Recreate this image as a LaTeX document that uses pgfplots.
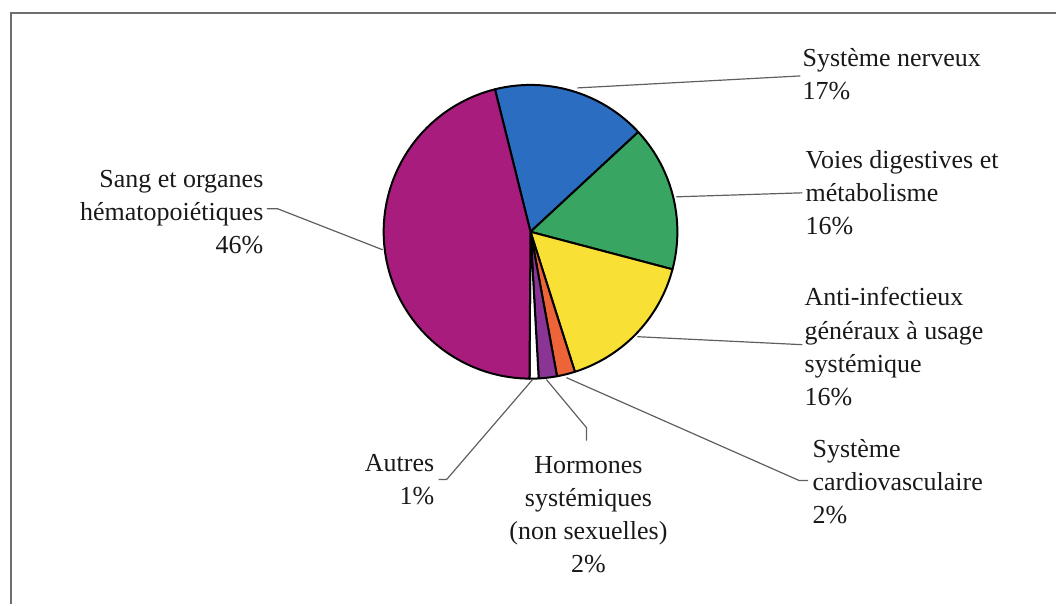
\documentclass[border=0pt]{standalone}
\usepackage{fontspec}
\setmainfont{Liberation Serif}
\usepackage{pgfplots}
\pgfplotsset{compat=1.18}

\definecolor{cblue}{RGB}{43,109,193}
\definecolor{cgreen}{RGB}{56,166,98}
\definecolor{cyellow}{RGB}{248,224,52}
\definecolor{corange}{RGB}{236,100,56}
\definecolor{cpurple}{RGB}{138,52,150}
\definecolor{cmagenta}{RGB}{168,28,126}
\definecolor{leader}{RGB}{95,95,95}
\definecolor{framegray}{RGB}{110,110,110}

% shares in percent, clockwise from the top-left start of the blue slice
\pgfmathsetmacro\aA{-14}
\pgfmathsetmacro\aB{\aA+3.6*17} % Systeme nerveux
\pgfmathsetmacro\aC{\aB+3.6*16} % Voies digestives et metabolisme
\pgfmathsetmacro\aD{\aC+3.6*16} % Anti-infectieux
\pgfmathsetmacro\aE{\aD+3.6*2}  % Systeme cardiovasculaire
\pgfmathsetmacro\aF{\aE+3.6*2}  % Hormones systemiques
\pgfmathsetmacro\aG{\aF+3.6*1}  % Autres
\pgfmathsetmacro\aH{\aG+3.6*46} % Sang et organes hematopoietiques

\begin{document}
\begin{tikzpicture}
\begin{axis}[
  scale only axis,
  width=528.5pt, height=302.5pt,
  xmin=0, xmax=1057, ymin=0, ymax=605,
  y dir=reverse,
  hide axis, clip=false,
  every axis plot/.append style={draw=black, line width=1pt, line join=round, samples=60, variable=\t},
]
\path (axis cs:0,0) rectangle (axis cs:1057,605);
\draw[framegray, line width=1pt] (axis cs:11,605) -- (axis cs:11,13) -- (axis cs:1057,13);

\addplot[fill=cblue, domain=\aA:\aB] ({531+147*sin(t)}, {232-147*cos(t)}) -- (axis cs:531,232) -- cycle;
\addplot[fill=cgreen, domain=\aB:\aC] ({531+147*sin(t)}, {232-147*cos(t)}) -- (axis cs:531,232) -- cycle;
\addplot[fill=cyellow, domain=\aC:\aD] ({531+147*sin(t)}, {232-147*cos(t)}) -- (axis cs:531,232) -- cycle;
\addplot[fill=corange, domain=\aD:\aE] ({531+147*sin(t)}, {232-147*cos(t)}) -- (axis cs:531,232) -- cycle;
\addplot[fill=cpurple, domain=\aE:\aF] ({531+147*sin(t)}, {232-147*cos(t)}) -- (axis cs:531,232) -- cycle;
\addplot[fill=white, domain=\aF:\aG] ({531+147*sin(t)}, {232-147*cos(t)}) -- (axis cs:531,232) -- cycle;
\addplot[fill=cmagenta, domain=\aG:\aH] ({531+147*sin(t)}, {232-147*cos(t)}) -- (axis cs:531,232) -- cycle;

% leader lines
\draw[leader, line width=0.6pt] (axis cs:578,88) -- (axis cs:801,76);
\draw[leader, line width=0.6pt] (axis cs:677,197) -- (axis cs:803,193);
\draw[leader, line width=0.6pt] (axis cs:638,337) -- (axis cs:803,345);
\draw[leader, line width=0.6pt] (axis cs:567,378) -- (axis cs:800,481) -- (axis cs:809,481);
\draw[leader, line width=0.6pt] (axis cs:547,380) -- (axis cs:587,428) -- (axis cs:587,441);
\draw[leader, line width=0.6pt] (axis cs:533,380) -- (axis cs:447,480) -- (axis cs:439,480);
\draw[leader, line width=0.6pt] (axis cs:383,250) -- (axis cs:278,209) -- (axis cs:267,209);

\tikzset{lbl/.style={inner sep=0pt, text=black!90, font=\fontsize{13}{16.6}\selectfont}}
\node[lbl, anchor=west, align=left] at (axis cs:803,74) {Système nerveux\\17\%};
\node[lbl, anchor=west, align=left] at (axis cs:806,193) {Voies digestives et\\métabolisme\\16\%};
\node[lbl, anchor=west, align=left] at (axis cs:805,347) {Anti-infectieux\\généraux à usage\\systémique\\16\%};
\node[lbl, anchor=west, align=left] at (axis cs:813,482) {Système\\cardiovasculaire\\2\%};
\node[lbl, anchor=center, align=center] at (axis cs:589,515) {Hormones\\systémiques\\(non sexuelles)\\2\%};
\node[lbl, anchor=east, align=right] at (axis cs:435,480) {Autres\\1\%};
\node[lbl, anchor=east, align=right] at (axis cs:264,212) {Sang et organes\\hématopoiétiques\\46\%};
\end{axis}
\end{tikzpicture}
\end{document}
